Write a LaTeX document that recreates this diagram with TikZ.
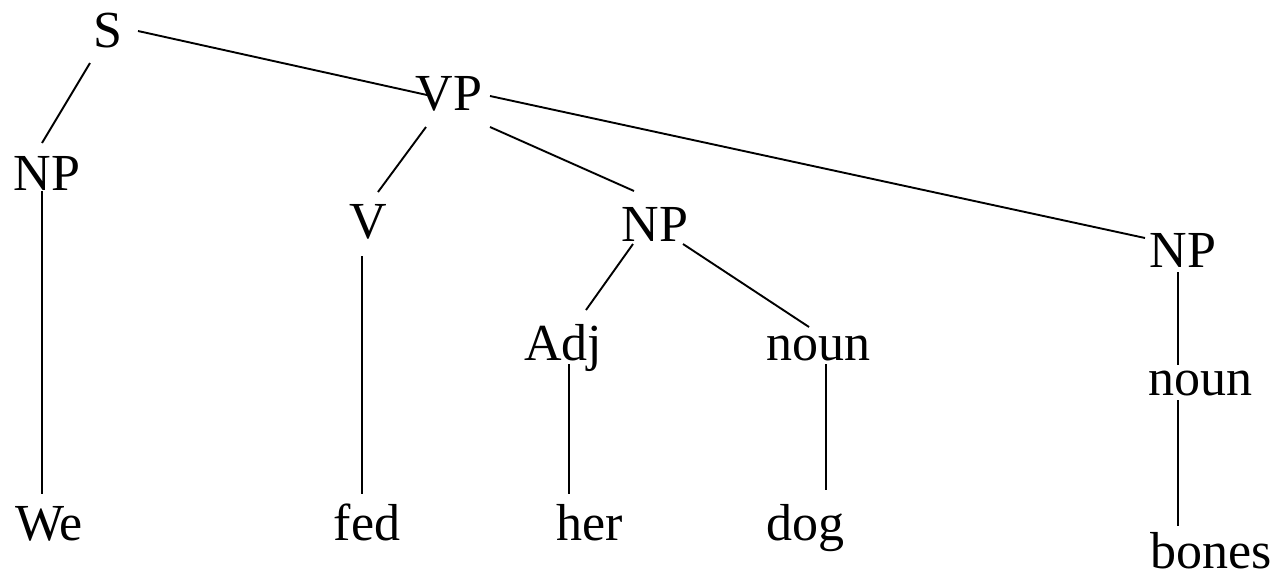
\documentclass[tikz,border=0pt]{standalone}
\usepackage{fontspec}
\setmainfont{Liberation Serif}
\usetikzlibrary{calc}

\begin{document}
\begin{tikzpicture}[x=1pt,y=-1pt,
		tag/.style={anchor=base,inner sep=0pt,font=\fontsize{52}{60}\selectfont},
		branch/.style={line width=1.9pt}]
	\useasboundingbox (0,0) rectangle (1278,579);
	% categories
	\node[tag] (s) at (108,47) {S};
	\node[tag] (vp) at (449,110) {VP};
	\node[tag] (np1) at (47,190) {NP};
	\node[tag] (v) at (368,238) {V};
	\node[tag] (np2) at (655,241) {NP};
	\node[tag] (np3) at (1183,267) {NP};
	\node[tag] (adj) at (563,360) {Adj};
	\node[tag] (n2) at (818,360) {noun};
	\node[tag] (n3) at (1200,395) {noun};
	% words
	\node[tag] (we) at (49,540) {We};
	\node[tag] (fed) at (367,540) {fed};
	\node[tag] (her) at (590,540) {her};
	\node[tag] (dog) at (805,540) {dog};
	\node[tag] (bones) at (1211,568) {bones};
	%
	\draw[branch] ($(s.base)+(-18,16)$) -- ($(np1.base)+(-5,-47)$);
	\draw[branch] ($(s.base)+(30,-16)$) -- ($(vp.base)+(-22,-15)$);
	\draw[branch] ($(vp.base)+(-23,17)$) -- ($(v.base)+(10,-46)$);
	\draw[branch] ($(vp.base)+(41,17)$) -- ($(np2.base)+(-21,-50)$);
	\draw[branch] ($(vp.base)+(41,-14)$) -- ($(np3.base)+(-38,-29)$);
	\draw[branch] ($(np2.base)+(-22,3)$) -- ($(adj.base)+(23,-50)$);
	\draw[branch] ($(np2.base)+(28,3)$) -- ($(n2.base)+(-9,-33)$);
	\draw[branch] ($(np1.base)+(-5,1)$) -- ($(we.base)+(-7,-46)$);
	\draw[branch] ($(v.base)+(-6,18)$) -- ($(fed.base)+(-5,-46)$);
	\draw[branch] ($(adj.base)+(6,4)$) -- ($(her.base)+(-21,-46)$);
	\draw[branch] ($(n2.base)+(8,4)$) -- ($(dog.base)+(21,-50)$);
	\draw[branch] ($(np3.base)+(-5,5)$) -- ($(n3.base)+(-22,-30)$);
	\draw[branch] ($(n3.base)+(-22,5)$) -- ($(bones.base)+(-33,-42)$);
\end{tikzpicture}
\end{document}
